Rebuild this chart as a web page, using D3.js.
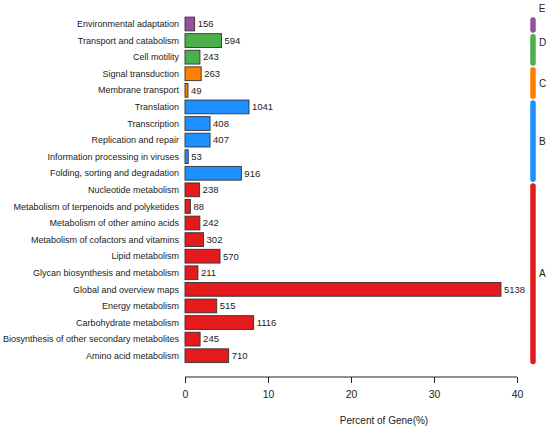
<!DOCTYPE html>
<html>
<head>
<meta charset="utf-8">
<title>KEGG classification</title>
<script src="https://cdn.jsdelivr.net/npm/d3@7"></script>
<style>
    body { margin: 0; background: #fff; }
    text { font-family: "Liberation Sans", Arial, Helvetica, sans-serif; fill: #222; }
</style>
</head>
<body>
<script>
// pathway names, top to bottom
let categories = [
    "Environmental adaptation",
    "Transport and catabolism",
    "Cell motility",
    "Signal transduction",
    "Membrane transport",
    "Translation",
    "Transcription",
    "Replication and repair",
    "Information processing in viruses",
    "Folding, sorting and degradation",
    "Nucleotide metabolism",
    "Metabolism of terpenoids and polyketides",
    "Metabolism of other amino acids",
    "Metabolism of cofactors and vitamins",
    "Lipid metabolism",
    "Glycan biosynthesis and metabolism",
    "Global and overview maps",
    "Energy metabolism",
    "Carbohydrate metabolism",
    "Biosynthesis of other secondary metabolites",
    "Amino acid metabolism"
]
let geneCounts = [156, 594, 243, 263, 49, 1041, 408, 407, 53, 916, 238, 88, 242, 302, 570, 211, 5138, 515, 1116, 245, 710]
let percents = [1.16, 4.40, 1.80, 1.95, 0.36, 7.71, 3.02, 3.02, 0.39, 6.79, 1.76, 0.65, 1.79, 2.24, 4.22, 1.56, 38.07, 3.82, 8.27, 1.82, 5.26]
let groups = ["E", "D", "D", "C", "C", "B", "B", "B", "B", "B", "A", "A", "A", "A", "A", "A", "A", "A", "A", "A", "A"]
let groupNames = ["E", "D", "C", "B", "A"]
let groupColors = ["#984EA3", "#4DAF4A", "#FF7F00", "#1E90FF", "#E41A1C"]
let xTicks = [0, 10, 20, 30, 40]

let width = 550,
    height = 432

let svg = d3.select('body').append('svg')
    .attr('width', width)
    .attr('height', height)

let x = d3.scaleLinear()
    .domain([0, 40])
    .range([185, 517])

let y = d3.scaleBand()
    .domain(categories)
    .range([15.7, 364])
    .paddingInner(0.17)
    .paddingOuter(0.085)

let color = d3.scaleOrdinal()
    .domain(groupNames)
    .range(groupColors)

let rows = categories.map(function(c, i){
    return {name: c, count: geneCounts[i], pct: percents[i], group: groups[i]}
})

// bars
svg.append('g').selectAll('rect')
    .data(rows)
    .enter().append('rect')
    .attr('x', x(0))
    .attr('y', d => y(d.name))
    .attr('width', d => x(d.pct) - x(0))
    .attr('height', y.bandwidth())
    .attr('fill', d => color(d.group))
    .attr('stroke', '#333')
    .attr('stroke-width', 0.9)

// count labels
svg.append('g').selectAll('text')
    .data(rows)
    .enter().append('text')
    .attr('x', d => x(d.pct) + 3)
    .attr('y', d => y(d.name) + y.bandwidth() / 2)
    .attr('dy', '0.35em')
    .attr('font-size', 9.5)
    .text(d => d.count)

// category labels
svg.append('g').selectAll('text')
    .data(rows)
    .enter().append('text')
    .attr('x', 179)
    .attr('y', d => y(d.name) + y.bandwidth() / 2)
    .attr('dy', '0.35em')
    .attr('text-anchor', 'end')
    .attr('font-size', 9)
    .text(d => d.name)

// x axis
let axis = d3.axisBottom(x)
    .tickValues(xTicks)
    .tickSize(6)
    .tickPadding(8)

let gx = svg.append('g')
    .attr('transform', 'translate(0,377)')
    .call(axis)
gx.select('.domain').attr('stroke', '#222').attr('d', 'M' + x(0) + ',0H' + x(40))
gx.selectAll('.tick line').attr('stroke', '#222')
gx.selectAll('.tick text')
    .attr('font-size', 10.5)
    .attr('font-family', '"Liberation Sans", Arial, sans-serif')
    .attr('fill', '#222')

svg.append('text')
    .attr('x', 384)
    .attr('y', 424)
    .attr('text-anchor', 'middle')
    .attr('font-size', 10)
    .text('Percent of Gene(%)')

// group side bars
let spans = groupNames.map(function(g){
    let members = rows.filter(d => d.group == g)
    let top = y(members[0].name)
    let bottom = y(members[members.length - 1].name) + y.bandwidth()
    return {group: g, top: top + 3, bottom: bottom - 1}
})

svg.append('g').selectAll('line')
    .data(spans)
    .enter().append('line')
    .attr('x1', 533).attr('x2', 533)
    .attr('y1', d => d.top)
    .attr('y2', d => d.bottom)
    .attr('stroke', d => color(d.group))
    .attr('stroke-width', 5.5)
    .attr('stroke-linecap', 'round')

svg.append('g').selectAll('text')
    .data(spans)
    .enter().append('text')
    .attr('x', d => d.group == 'E' ? 542 : 539)
    .attr('y', function(d){
        if (d.group == 'E') return d.top - 12
        if (d.group == 'D') return d.top + 6
        return (d.top + d.bottom) / 2
    })
    .attr('dy', '0.35em')
    .attr('text-anchor', d => d.group == 'E' ? 'middle' : 'start')
    .attr('font-size', 10)
    .text(d => d.group)
</script>
</body>
</html>
